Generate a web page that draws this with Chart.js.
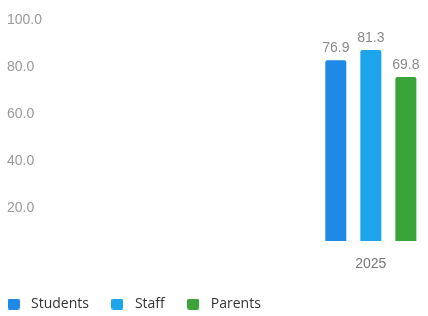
<!DOCTYPE html>
<html>
<head>
<meta charset="utf-8">
<script src="https://cdn.jsdelivr.net/npm/chart.js@4/dist/chart.umd.min.js"></script>
<style>
html,body{margin:0;padding:0;background:#fff;}
#wrap{width:428px;height:316px;position:relative;}
</style>
</head>
<body>
<div id="wrap"><canvas id="c"></canvas></div>
<script>
const categories = ["", "", "2025"];
const students = [null, null, 76.9];
const staff = [null, null, 81.3];
const parents = [null, null, 69.8];
const yTicks = [20, 40, 60, 80, 100];

function swatch(color) {
  const c = document.createElement('canvas');
  c.width = 12; c.height = 11;
  const g = c.getContext('2d');
  g.fillStyle = color;
  g.beginPath();
  if (g.roundRect) g.roundRect(0, 0, 12, 11, 2); else g.rect(0, 0, 12, 11);
  g.fill();
  return c;
}

const valueLabels = {
  id: 'valueLabels',
  afterDatasetsDraw(chart) {
    const ctx = chart.ctx;
    ctx.save();
    ctx.font = '14px "Liberation Sans", Arial, sans-serif';
    ctx.fillStyle = '#8a8a8a';
    ctx.textAlign = 'center';
    ctx.textBaseline = 'middle';
    chart.data.datasets.forEach((ds, i) => {
      const meta = chart.getDatasetMeta(i);
      meta.data.forEach((el, j) => {
        const v = ds.data[j];
        if (v === null || v === undefined) return;
        ctx.fillText(v.toFixed(1), el.x, el.y - 12);
      });
    });
    ctx.restore();
  }
};

const legendShift = {
  id: 'legendShift',
  afterLayout(chart) {
    const lg = chart.legend;
    if (!lg) return;
    lg.left -= 22; lg.right -= 22;
    lg.top += 5; lg.bottom += 5;
  }
};

new Chart(document.getElementById('c'), {
  type: 'bar',
  data: {
    labels: categories,
    datasets: [
      { label: 'Students', data: students, backgroundColor: '#1e8ae6', borderRadius: 2, borderSkipped: 'bottom' },
      { label: 'Staff', data: staff, backgroundColor: '#1ea4ea', borderRadius: 2, borderSkipped: 'bottom' },
      { label: 'Parents', data: parents, backgroundColor: '#3aa33a', borderRadius: 2, borderSkipped: 'bottom' }
    ]
  },
  options: {
    responsive: true,
    maintainAspectRatio: false,
    animation: false,
    devicePixelRatio: 1,
    layout: { padding: { left: 7, right: 3, top: 0, bottom: 0 } },
    datasets: { bar: { categoryPercentage: 0.97, barPercentage: 0.6 } },
    scales: {
      x: {
        grid: { display: false },
        border: { display: false },
        ticks: { color: '#777', font: { family: '"Liberation Sans", Arial, sans-serif', size: 14 }, padding: 7, maxRotation: 0, autoSkip: false },
        afterFit(scale) { scale.height = 33; }
      },
      y: {
        min: 0, max: 100,
        afterBuildTicks(scale) { scale.ticks = [0].concat(yTicks).map(v => ({ value: v })); },
        grid: { display: false },
        border: { display: false },
        ticks: {
          color: '#999',
          font: { family: '"Liberation Sans", Arial, sans-serif', size: 14 },
          crossAlign: 'far',
          labelOffset: 14,
          callback: (v) => v === 0 ? '' : Number(v).toFixed(1)
        },
        afterFit(scale) { scale.width = 93; scale.paddingTop = 6; scale.paddingBottom = 0; }
      }
    },
    plugins: {
      legend: {
        position: 'bottom',
        align: 'start',
        labels: {
          color: '#333',
          font: { family: '"Open Sans", sans-serif', size: 14 },
          usePointStyle: true,
          pointStyleWidth: 21,
          padding: 18,
          generateLabels(chart) {
            const items = Chart.defaults.plugins.legend.labels.generateLabels(chart);
            items.forEach(it => { it.pointStyle = swatch(it.fillStyle); });
            return items;
          }
        }
      },
      tooltip: { enabled: false }
    }
  },
  plugins: [valueLabels, legendShift]
});
</script>
</body>
</html>
